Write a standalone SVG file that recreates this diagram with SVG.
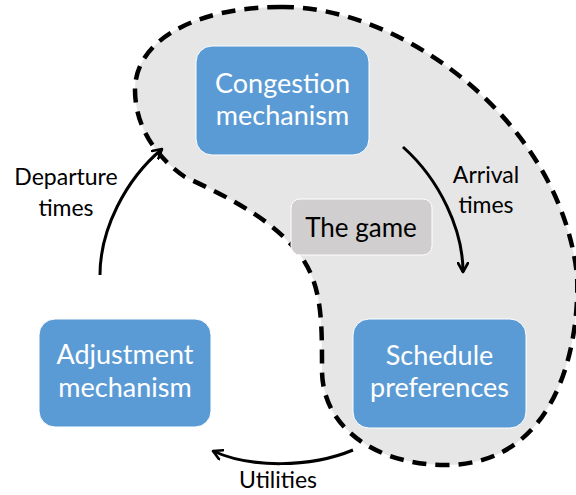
<svg xmlns="http://www.w3.org/2000/svg" width="576" height="495" viewBox="0 0 576 495">
  <defs>
    <style>
      .box { fill: #5b9bd5; stroke: #ffffff; stroke-width: 1; }
      .boxtext { font-family: Lato, "Open Sans", sans-serif; font-size: 27px; fill: #ffffff; text-anchor: middle; }
      .label { font-family: Lato, "Open Sans", sans-serif; font-size: 23px; fill: #000000; text-anchor: middle; }
      .big { font-size: 26px; }
      .edge { fill: none; stroke: #000000; stroke-width: 3; }
    </style>
    <marker id="open-arrow" viewBox="0 0 12 12" refX="10" refY="6" markerWidth="12" markerHeight="12" markerUnits="userSpaceOnUse" orient="auto">
      <path d="M1,1 L10,6 L1,11" fill="none" stroke="#000000" stroke-width="2.6" stroke-linecap="round" stroke-linejoin="round"/>
    </marker>
  </defs>

  <rect width="576" height="495" fill="#ffffff"/>

  <!-- game region -->
  <g id="game-region">
    <path d="M280,7 C400,5 560,120 577,275 C580,340 560,465 445,465 C380,465 322,430 322,370 C322,320 322,285 300,255 C275,222 235,200 185,177 C160,160 135,130 135,90 C135,38 200,7 280,7 Z"
          fill="#e7e6e6" stroke="#000000" stroke-width="4.5" stroke-dasharray="14 9"/>
  </g>

  <!-- connectors -->
  <g id="connectors">
    <path class="edge" d="M100,275 C100,230 125,180 162,149" marker-end="url(#open-arrow)"/>
    <path class="edge" d="M403,147 C440,180 463,230 463,272" marker-end="url(#open-arrow)"/>
    <path class="edge" d="M353,450 C310,468 250,468 213,451" marker-end="url(#open-arrow)"/>
  </g>

  <g id="congestion">
    <rect class="box" x="196" y="46" width="173" height="109" rx="16"/>
    <text class="boxtext" x="282.5" y="93">Congestion</text>
    <text class="boxtext" x="282.5" y="125">mechanism</text>
  </g>

  <g id="schedule">
    <rect class="box" x="353" y="319" width="173" height="109" rx="16"/>
    <text class="boxtext" x="439.5" y="365">Schedule</text>
    <text class="boxtext" x="439.5" y="397">preferences</text>
  </g>

  <g id="adjustment">
    <rect class="box" x="39" y="319" width="172" height="108" rx="16"/>
    <text class="boxtext" x="125" y="364">Adjustment</text>
    <text class="boxtext" x="125" y="397">mechanism</text>
  </g>

  <g id="the-game">
    <rect x="291" y="199" width="141" height="56" rx="9" fill="#d0cece" stroke="#ffffff" stroke-width="1"/>
    <text class="label big" x="361" y="237">The game</text>
  </g>

  <g id="labels">
    <text class="label" x="66" y="185">Departure</text>
    <text class="label" x="66" y="216">times</text>
    <text class="label" x="486" y="183">Arrival</text>
    <text class="label" x="486" y="213">times</text>
    <text class="label" x="278" y="488">Utilities</text>
  </g>
</svg>
